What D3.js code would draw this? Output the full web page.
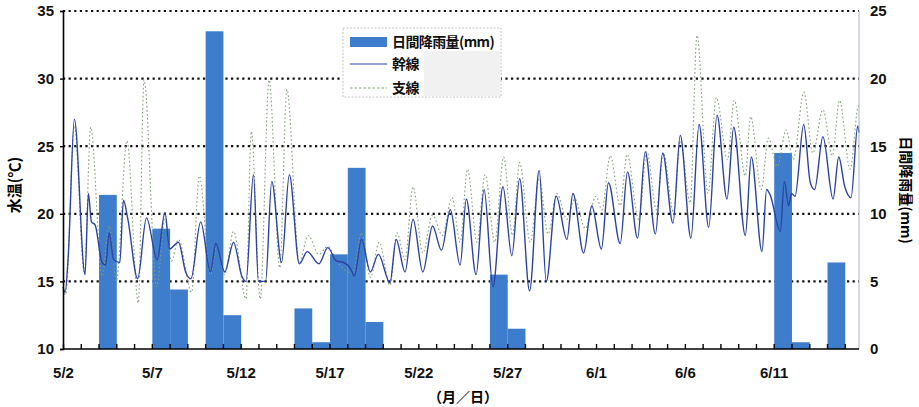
<!DOCTYPE html>
<html>
<head>
<meta charset="utf-8">
<script src="https://cdn.jsdelivr.net/npm/d3@7"></script>
<style>
  html, body { margin: 0; padding: 0; background: #fff; }
  svg { display: block; }
  text { font-family: "Liberation Sans", Arial, sans-serif; }
  .cjk { font-family: "Noto Sans CJK JP", "Noto Sans CJK SC", sans-serif; }
</style>
</head>
<body>
<svg id="chart" width="919" height="407"></svg>
<script>
// ---------------- data ----------------
const startDate = "5/2";
const spanDays = 44.8;
const xTickLabels = ["5/2", "5/7", "5/12", "5/17", "5/22", "5/27", "6/1", "6/6", "6/11"];
const leftTicks = [10, 15, 20, 25, 30, 35];
const rightTicks = [0, 5, 10, 15, 20, 25];
const gridValues = [15, 20, 25, 30, 35];

// daily rainfall (mm)
const rainDates = ["5/4", "5/7", "5/8", "5/10", "5/11", "5/15", "5/16", "5/17", "5/18", "5/19", "5/26", "5/27", "6/11", "6/12", "6/14"];
const rainValues = [11.4, 8.9, 4.4, 23.5, 2.5, 3.0, 0.5, 7.0, 13.4, 2.0, 5.5, 1.5, 14.5, 0.5, 6.4];

// 幹線 water temperature: [days since 5/2 0:00, °C]
const trunkSeries = [
  [0.0,14.6],[0.12,14.2],[0.3,17.0],[0.64,27.0],[1.24,15.5],[1.43,21.5],[1.6,19.4],[1.8,19.2],
  [2.2,16.4],[2.4,16.2],[2.6,18.6],[2.85,16.6],[3.2,16.4],[3.4,21.0],[3.65,19.6],[4.2,15.2],
  [4.7,19.7],[5.3,16.6],[5.74,20.1],[6.0,17.4],[6.5,17.9],[6.9,15.7],[7.2,15.2],[7.75,19.4],
  [8.3,15.7],[8.6,17.8],[9.1,15.7],[9.6,17.9],[10.06,15.4],[10.3,15.0],[10.72,22.9],[11.0,15.0],
  [11.4,15.0],[11.75,22.4],[12.3,16.4],[12.74,22.9],[13.3,16.3],[13.75,17.2],[14.4,16.3],[14.9,17.5],
  [15.4,16.5],[15.8,16.4],[16.2,15.9],[16.4,15.4],[16.8,18.1],[17.3,15.7],[17.75,17.0],[18.4,14.9],
  [18.75,18.1],[19.25,15.7],[19.7,19.6],[20.25,15.7],[20.8,19.1],[21.3,17.3],[21.8,20.3],[22.35,16.2],
  [22.7,21.1],[23.25,15.5],[23.7,21.8],[24.2,14.6],[24.76,22.0],[25.26,16.9],[25.7,22.6],[26.26,14.3],
  [26.8,23.2],[27.2,15.0],[27.76,21.3],[28.36,18.1],[28.7,21.5],[29.3,17.1],[29.76,20.6],[30.3,17.4],
  [30.7,22.3],[31.36,17.8],[31.77,23.1],[32.34,18.2],[32.77,24.6],[33.34,18.5],[33.75,24.5],[34.33,19.3],
  [34.74,25.8],[35.34,18.2],[35.8,26.6],[36.34,19.0],[36.81,27.3],[37.37,21.1],[37.75,26.4],[38.4,18.4],
  [38.74,24.2],[39.34,17.2],[39.6,21.8],[39.8,21.4],[40.37,18.7],[40.6,22.4],[40.84,20.6],[41.0,21.5],
  [41.2,21.3],[41.69,26.6],[42.06,22.3],[42.3,21.8],[42.77,25.7],[43.34,21.1],[43.66,24.2],[44.0,22.0],
  [44.35,21.2],[44.73,26.5],[44.8,26.0]
];

// 支線 water temperature: [days since 5/2 0:00, °C]
const branchSeries = [
  [0.0,14.4],[0.15,14.0],[0.64,26.5],[1.2,15.6],[1.56,26.4],[2.2,15.4],[2.6,19.1],[3.0,15.0],
  [3.6,25.4],[4.24,13.4],[4.56,29.9],[5.27,14.6],[5.74,19.6],[6.1,16.5],[6.5,18.1],[7.24,14.2],
  [7.67,22.8],[8.3,15.5],[8.65,17.6],[9.1,15.5],[9.6,18.7],[10.3,13.7],[10.6,26.1],[11.1,13.7],
  [11.6,29.9],[12.2,16.0],[12.6,29.2],[13.3,16.4],[13.8,18.4],[14.4,17.0],[14.9,17.6],[15.4,16.5],
  [16.3,15.6],[16.8,18.6],[17.3,15.3],[17.8,17.9],[18.4,14.7],[18.8,18.6],[19.25,16.6],[19.7,22.0],
  [20.25,17.1],[20.8,19.9],[21.35,18.4],[21.9,21.2],[22.35,17.9],[22.77,23.3],[23.3,17.9],[23.76,22.9],
  [24.3,17.9],[24.8,24.2],[25.3,18.4],[25.7,23.8],[26.3,17.9],[26.8,22.6],[27.3,18.5],[27.8,21.5],
  [28.36,19.6],[28.8,21.1],[29.4,18.9],[30.0,21.3],[30.33,20.3],[30.8,24.3],[31.36,20.6],[31.75,24.4],
  [32.4,19.6],[32.86,24.6],[33.4,20.3],[33.8,24.5],[34.36,20.1],[34.74,25.4],[35.3,20.8],[35.68,33.2],
  [36.3,21.5],[36.77,28.6],[37.4,24.0],[37.78,28.4],[38.4,22.8],[38.7,27.2],[39.3,21.8],[39.7,25.6],
  [40.2,23.5],[40.7,26.2],[41.1,24.0],[41.7,29.0],[42.2,24.5],[42.77,27.7],[43.3,24.3],[43.7,28.4],
  [44.3,23.3],[44.78,28.0],[44.8,27.8]
];

// ---------------- chart ----------------
(function () {
const DAY = 86400000;
function parseMD(s) { const [m, d] = s.split("/").map(Number); return new Date(Date.UTC(2000, m - 1, d)); }
const t0 = parseMD(startDate);
const t1 = new Date(t0.getTime() + spanDays * DAY);
const atOffset = o => new Date(t0.getTime() + o * DAY);

const svg = d3.select("#chart");
const pl = 63, pr = 859, pt = 11, pb = 349;

const x = d3.scaleUtc().domain([t0, t1]).range([pl, pr]);
const yT = d3.scaleLinear().domain([10, 35]).range([pb, pt]);
const yR = d3.scaleLinear().domain([0, 25]).range([pb, pt]);

// grid lines (dotted)
svg.append("g").selectAll("line").data(gridValues).join("line")
  .attr("x1", pl).attr("x2", pr)
  .attr("y1", d => yT(d)).attr("y2", d => yT(d))
  .attr("stroke", "#111").attr("stroke-width", 2.2)
  .attr("stroke-dasharray", "2.2,3.4");

// rainfall bars
const rain = rainDates.map((d, i) => ({ date: parseMD(d), v: rainValues[i] }));
svg.append("g").selectAll("rect").data(rain).join("rect")
  .attr("x", d => x(d.date) + 0.5)
  .attr("width", d => x(d3.utcDay.offset(d.date, 1)) - x(d.date))
  .attr("y", d => yR(d.v))
  .attr("height", d => yR(0) - yR(d.v))
  .attr("fill", "#3d7dcc");

// lines
const line = d3.line()
  .x(d => x(atOffset(d[0])))
  .y(d => yT(d[1]))
  .curve(d3.curveMonotoneX);

svg.append("path").datum(branchSeries)
  .attr("d", line).attr("fill", "none")
  .attr("stroke", "#83a07c").attr("stroke-width", 1.1)
  .attr("stroke-dasharray", "1.6,2.4");

svg.append("path").datum(trunkSeries)
  .attr("d", line).attr("fill", "none")
  .attr("stroke", "#2c43a3").attr("stroke-width", 1.4);

// right axis thin line
svg.append("line").attr("x1", pr).attr("x2", pr).attr("y1", pt).attr("y2", pb)
  .attr("stroke", "#a9b2c8").attr("stroke-width", 1);

// left axis
const gL = svg.append("g").attr("transform", `translate(${pl},0)`)
  .call(d3.axisLeft(yT).tickValues(leftTicks).tickSize(3).tickPadding(6).tickFormat(d3.format("d")));
gL.select(".domain").attr("stroke", "#000").attr("stroke-width", 1.6);
gL.selectAll(".tick line").attr("stroke", "#000").attr("stroke-width", 1.4);
gL.selectAll("text").attr("font-size", 15).attr("font-weight", "bold").attr("fill", "#111")
  .attr("font-family", "Liberation Sans, Arial, sans-serif");

// right axis labels
const gR = svg.append("g").attr("transform", `translate(${pr},0)`)
  .call(d3.axisRight(yR).tickValues(rightTicks).tickSize(0).tickPadding(11).tickFormat(d3.format("d")));
gR.select(".domain").remove();
gR.selectAll("text").attr("font-size", 15).attr("font-weight", "bold").attr("fill", "#111")
  .attr("font-family", "Liberation Sans, Arial, sans-serif");

// bottom axis: daily inward ticks
const dayTicks = d3.utcDay.range(t0, d3.utcDay.offset(t1, 1)).filter(d => d <= t1);
const gB = svg.append("g").attr("transform", `translate(0,${pb})`)
  .call(d3.axisBottom(x).tickValues(dayTicks).tickSize(-5).tickFormat(""));
gB.select(".domain").attr("stroke", "#000").attr("stroke-width", 1.6).attr("d", `M${pl},0H${pr}`);
gB.selectAll(".tick line").attr("stroke", "#000").attr("stroke-width", 1.4);

const labelDates = xTickLabels.map(parseMD);
const gBL = svg.append("g").attr("transform", `translate(0,${pb})`)
  .call(d3.axisBottom(x).tickValues(labelDates).tickSize(0).tickPadding(18)
    .tickFormat(d => (d.getUTCMonth() + 1) + "/" + d.getUTCDate()));
gBL.select(".domain").remove();
gBL.selectAll("text").attr("font-size", 15).attr("font-weight", "bold").attr("fill", "#111")
  .attr("font-family", "Liberation Sans, Arial, sans-serif");

// axis titles
svg.append("text").attr("class", "cjk")
  .attr("transform", `translate(20,185) rotate(-90)`)
  .attr("text-anchor", "middle").attr("font-size", 15).attr("font-weight", "bold")
  .text("水温(℃)");

svg.append("text").attr("class", "cjk")
  .attr("transform", `translate(901,190) rotate(90)`)
  .attr("text-anchor", "middle").attr("font-size", 14).attr("font-weight", "bold")
  .text("日間降雨量(mm)");

svg.append("text").attr("class", "cjk")
  .attr("x", 463).attr("y", 402)
  .attr("text-anchor", "middle").attr("font-size", 14).attr("font-weight", "bold")
  .text("（月／日）");

// legend
const lg = svg.append("g");
lg.append("rect").attr("x", 343).attr("y", 28).attr("width", 158).attr("height", 69)
  .attr("fill", "#ffffff").attr("stroke", "#b5b5b5").attr("stroke-width", 0.8)
  .attr("stroke-dasharray", "2,1.5");
lg.append("rect").attr("x", 424).attr("y", 51).attr("width", 76).attr("height", 45)
  .attr("fill", "#f1f1f1");
lg.append("rect").attr("x", 350).attr("y", 37).attr("width", 37).attr("height", 10).attr("fill", "#3d7dcc");
lg.append("line").attr("x1", 350).attr("x2", 387).attr("y1", 64).attr("y2", 64)
  .attr("stroke", "#2c43a3").attr("stroke-width", 1.2);
lg.append("line").attr("x1", 350).attr("x2", 387).attr("y1", 88).attr("y2", 88)
  .attr("stroke", "#83a07c").attr("stroke-width", 1.1).attr("stroke-dasharray", "2.5,2");
const legendLabels = ["日間降雨量(mm)", "幹線", "支線"];
lg.selectAll("text.lbl").data(legendLabels).join("text").attr("class", "cjk lbl")
  .attr("x", 392).attr("y", (d, i) => [47, 69, 93][i])
  .attr("font-size", 14).attr("font-weight", "bold").attr("fill", "#111")
  .attr("letter-spacing", -0.6)
  .text(d => d);
})();
</script>
</body>
</html>
